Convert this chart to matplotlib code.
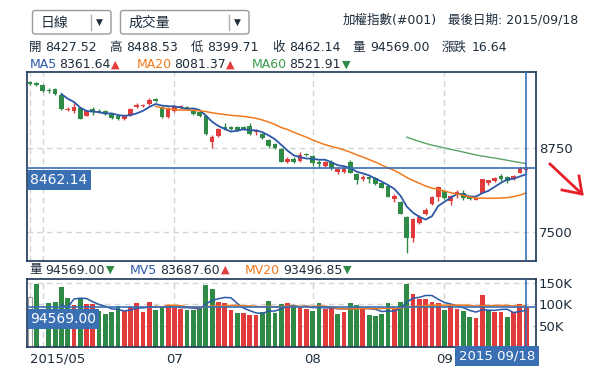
import numpy as np
import pandas as pd
import matplotlib
matplotlib.use("Agg")
import matplotlib.pyplot as plt
from matplotlib.patches import FancyBboxPatch
from matplotlib.transforms import blended_transform_factory

plt.rcParams['font.family'] = ['DejaVu Sans', 'Noto Sans CJK TC']

# 日K資料 (2015/05 ~ 2015/09/18)
opens = [9736, 9722, 9692, 9617, 9632, 9543, 9320, 9305, 9350, 9231,
         9335, 9305, 9305, 9260, 9231, 9186, 9245, 9364, 9379, 9409,
         9484, 9364, 9216, 9305, 9364, 9364, 9320, 9290, 9231, 8844,
         8933, 9067, 9067, 9067, 9067, 9082, 8993, 8963, 8874, 8814,
         8740, 8546, 8591, 8561, 8665, 8635, 8546, 8487, 8546, 8397,
         8397, 8546, 8368, 8293, 8323, 8308, 8234, 8189, 7996, 7951,
         7728, 7415, 7638, 7772, 7921, 8025, 8115, 7966, 8070, 8085,
         8025, 7981, 8085, 8234, 8263, 8338, 8323, 8293, 8382, 8427.52]
highs = [9751, 9736, 9707, 9647, 9647, 9558, 9364, 9424, 9364, 9320,
         9364, 9335, 9320, 9275, 9245, 9245, 9350, 9424, 9409, 9498,
         9498, 9379, 9364, 9394, 9394, 9379, 9350, 9320, 9245, 8948,
         9052, 9126, 9082, 9082, 9082, 9126, 9037, 8978, 8888, 8829,
         8754, 8620, 8620, 8695, 8680, 8650, 8576, 8561, 8576, 8457,
         8487, 8576, 8382, 8353, 8338, 8323, 8249, 8204, 8070, 7966,
         7743, 7713, 7757, 7862, 8040, 8189, 8129, 8055, 8129, 8129,
         8055, 8025, 8293, 8278, 8323, 8368, 8338, 8353, 8472, 8488.53]
lows = [9692, 9677, 9588, 9573, 9543, 9320, 9305, 9275, 9186, 9231,
        9245, 9275, 9245, 9186, 9171, 9171, 9231, 9350, 9364, 9394,
        9439, 9201, 9201, 9290, 9335, 9335, 9245, 9216, 8948, 8754,
        8918, 9022, 9022, 9007, 9022, 8948, 8948, 8888, 8754, 8740,
        8546, 8531, 8531, 8546, 8635, 8487, 8472, 8472, 8427, 8368,
        8382, 8382, 8219, 8263, 8234, 8204, 8159, 8025, 7951, 7772,
        7192, 7356, 7624, 7757, 7906, 7966, 7996, 7906, 8010, 7981,
        7981, 7981, 8085, 8204, 8249, 8263, 8234, 8278, 8382, 8399.71]
closes = [9707, 9692, 9603, 9603, 9558, 9335, 9335, 9364, 9186, 9305,
          9290, 9290, 9260, 9201, 9186, 9231, 9335, 9394, 9394, 9469,
          9454, 9216, 9350, 9379, 9379, 9350, 9260, 9231, 8963, 8918,
          9037, 9037, 9037, 9022, 9037, 8963, 9022, 8903, 8784, 8754,
          8546, 8591, 8546, 8650, 8655, 8531, 8516, 8546, 8457, 8442,
          8457, 8382, 8278, 8323, 8293, 8219, 8159, 8025, 8040, 7772,
          7415, 7698, 7728, 7832, 8025, 8174, 8010, 8040, 8100, 8010,
          7996, 8010, 8293, 8278, 8308, 8293, 8263, 8338, 8457, 8462.14]
# 成交量 (千)
volumes_k = [117, 148, 0, 103, 106, 141, 115, 98, 113, 102,
             102, 84, 77.5, 82, 95.5, 84, 94, 103, 82, 106,
             87, 94, 99, 91.5, 90, 87.6, 87.6, 91.5, 146, 135,
             106, 103, 87.6, 80, 80, 76, 76, 81, 109, 80.6,
             101.7, 103, 93, 93, 90, 84, 103, 90, 93, 78,
             83, 103, 99, 90, 76, 73.5, 78, 103, 91.5, 105.6,
             148, 125, 113, 113, 105.6, 103, 87.6, 95.5, 90, 85.3,
             71, 68, 122, 86, 83, 81.4, 70.4, 82.2, 101, 94.569]
vol_dir = ("WGGGGGGRGRRGGGGRRRRRGGRRRGGGGGRRRGRRRGGGGRGRRGGRRGRGGRGGGGRGGRRRRRGRRGGRRGRRGRRR")

month_idx = [0, 23, 45, 66]
month_lbl = ["2015/05", "07", "08", "09"]
grid_idx = [0, 2, 23, 45, 66]

last_date = "2015/09/18"
change = 16.64
ma_text = [("MA5", "8361.64", "▲"), ("MA20", "8081.37", "▲"), ("MA60", "8521.91", "▼")]
mv_text = [("MV5", "83687.60", "▲"), ("MV20", "93496.85", "▼")]

RED = "#e23b3b"
GREEN = "#2e8a45"
DARK = "#1e2d3b"
NAVY = "#1b3556"
BLUE = "#3a6fb3"
GRIDC = "#d4d4d4"
FS = 9

W, H = 613, 380
fig = plt.figure(figsize=(W / 100, H / 100), dpi=100)


def ftxt(x, y, s, color=DARK, size=FS, **kw):
    fig.text(x / W, 1 - y / H, s, color=color, fontsize=size, va="center", ha="left", **kw)


o = np.array(opens); h = np.array(highs); l = np.array(lows); c = np.array(closes)
v = np.array(volumes_k) * 1000
n = len(c)
idx = np.arange(n)

ax = fig.add_axes([27 / W, 1 - 261 / H, 509 / W, 189 / H])
axv = fig.add_axes([27 / W, 1 - 347 / H, 509 / W, 68 / H])

for a in (ax, axv):
    a.set_xlim(-0.48, 80.57)
    for sp in a.spines.values():
        sp.set_color(NAVY)
        sp.set_linewidth(1.2)
    for gi in grid_idx:
        a.axvline(gi, color=GRIDC, lw=1, ls=(0, (4, 3)), zorder=0)
    a.yaxis.tick_right()
    a.tick_params(axis="both", length=0, labelsize=9.5, colors=DARK, pad=2)

# K線
up = c >= o
col = np.where(up, RED, GREEN)
ax.vlines(idx, l, h, color=col, lw=1, zorder=2)
body = np.maximum(np.abs(c - o), 12)
ax.bar(idx, body, bottom=np.minimum(o, c), width=0.74, color=col, zorder=3)

s = pd.Series(c)
for win, colr, lw in [(5, "#2c58a8", 1.3), (20, "#f27a1e", 1.1), (60, "#5aa466", 1.0)]:
    ma = s.rolling(win).mean()
    ma[:win] = np.nan
    ax.plot(idx, ma, color=colr, lw=lw, zorder=4)

ax.set_ylim(7073, 9885)
ax.set_yticks([7500, 8750])
ax.set_xticks([])
for yv in [7500, 8750]:
    ax.axhline(yv, color=GRIDC, lw=1, ls=(0, (4, 3)), zorder=0)

ax.axhline(c[-1], color=BLUE, lw=1.2, zorder=5)
ax.axvline(idx[-1], color=BLUE, lw=1.2, zorder=5)
ax.annotate(f"{c[-1]:.2f}", xy=(0, c[-1]), xycoords=blended_transform_factory(ax.transAxes, ax.transData),
            xytext=(2.5, -4), textcoords="offset points", va="top", ha="left", color="white", fontsize=10,
            bbox=dict(boxstyle="square,pad=0.2", fc=BLUE, ec="none"), zorder=6)

# 成交量
for i in range(n):
    d = vol_dir[i]
    if v[i] <= 0:
        continue
    if d == "W":
        axv.bar(i, v[i], width=0.76, color="white", edgecolor="#999999", lw=0.8, zorder=2)
    else:
        axv.bar(i, v[i], width=0.76, color=RED if d == "R" else GREEN, zorder=2)
vs = pd.Series(v)
for win, colr in [(5, "#2c58a8"), (20, "#f27a1e")]:
    mv = vs.rolling(win).mean()
    mv[:win] = np.nan
    axv.plot(idx, mv, color=colr, lw=1.1, zorder=4)

axv.set_ylim(0, 159600)
axv.set_yticks([50000, 100000, 150000])
axv.set_yticklabels(["50K", "100K", "150K"])
for yv in [50000, 100000, 150000]:
    axv.axhline(yv, color=GRIDC, lw=1, ls=(0, (4, 3)), zorder=0)
axv.set_xticks(month_idx)
axv.set_xticklabels(month_lbl)
axv.tick_params(axis="x", pad=4)
axv.get_xticklabels()[0].set_ha("left")
axv.axhline(v[-1], color=BLUE, lw=1.2, zorder=5)
axv.axvline(idx[-1], color=BLUE, lw=1.2, zorder=5)
axv.annotate(f"{v[-1]:.2f}", xy=(0, v[-1]), xycoords=blended_transform_factory(axv.transAxes, axv.transData),
             xytext=(2.5, -4), textcoords="offset points", va="top", ha="left", color="white", fontsize=10,
             bbox=dict(boxstyle="square,pad=0.2", fc=BLUE, ec="none"), zorder=6)

fig.text(497 / W, 1 - 356 / H, last_date[:4] + " " + last_date[5:], color="white", fontsize=9.5,
         ha="center", va="center", bbox=dict(boxstyle="square,pad=0.3", fc=BLUE, ec="none"))

# 上方下拉選單
for x0, x1, dv, label in [(32.5, 111, 90.7, "日線"), (120.5, 249, 228.7, "成交量")]:
    fig.add_artist(FancyBboxPatch((x0 / W, 1 - 34 / H), (x1 - x0) / W, 23.5 / H,
                                  boxstyle="round,pad=0,rounding_size=0.006", transform=fig.transFigure,
                                  fc="white", ec="#9a9a9a", lw=1))
    fig.add_artist(plt.Line2D([dv / W, dv / W], [1 - 15 / H, 1 - 30 / H], color="#b0b0b0", lw=1,
                              transform=fig.transFigure))
    ftxt(x0 + 8, 22.5, label, size=10)
    ftxt(dv + 5.5, 22.5, "▼", size=6.5)

ftxt(342.7, 20, "加權指數(#001)", size=FS)
ftxt(448, 20, "最後日期: " + last_date, size=FS)

# 報價列
row1 = [(28.7, "開"), (45.5, f"{o[-1]:.2f}"), (109.3, "高"), (126.5, f"{h[-1]:.2f}"),
        (191, "低"), (207, f"{l[-1]:.2f}"), (272.7, "收"), (289, f"{c[-1]:.2f}"),
        (352.7, "量"), (370, f"{v[-1]:.2f}"), (441.7, "漲跌"), (471.7, f"{change:.2f}")]
for x, t in row1:
    ftxt(x, 47.5, t)

ma_pos = [(29.3, 59.3, 111), (136.7, 174, 225.5), (251.7, 289, 342)]
ma_col = ["#2c58a8", "#f27a1e", "#3d9a4e"]
for (name, val, arr), (x0, x1, x2), mc in zip(ma_text, ma_pos, ma_col):
    ftxt(x0, 64.5, name, color=mc)
    ftxt(x1, 64.5, val)
    ftxt(x2, 64.5, arr, color=RED if arr == "▲" else GREEN, size=8)

ftxt(29.3, 270, "量")
ftxt(45, 270, f"{v[-1]:.2f}")
ftxt(105.5, 270, "▼", color=GREEN, size=8)
mv_pos = [(130, 160, 220.5), (245, 283.3, 343)]
for (name, val, arr), (x0, x1, x2), mc in zip(mv_text, mv_pos, ma_col):
    ftxt(x0, 270, name, color=mc)
    ftxt(x1, 270, val)
    ftxt(x2, 270, arr, color=RED if arr == "▲" else GREEN, size=8)

# 手繪箭頭
fig.add_artist(plt.Line2D([550 / W, 582 / W], [1 - 164 / H, 1 - 194 / H], color="#e8202a", lw=2,
                          transform=fig.transFigure))
fig.add_artist(plt.Line2D([579 / W, 582 / W, 562 / W], [1 - 176 / H, 1 - 194 / H, 1 - 190 / H],
                          color="#e8202a", lw=2, transform=fig.transFigure))

fig.savefig("out.png", dpi=100)
